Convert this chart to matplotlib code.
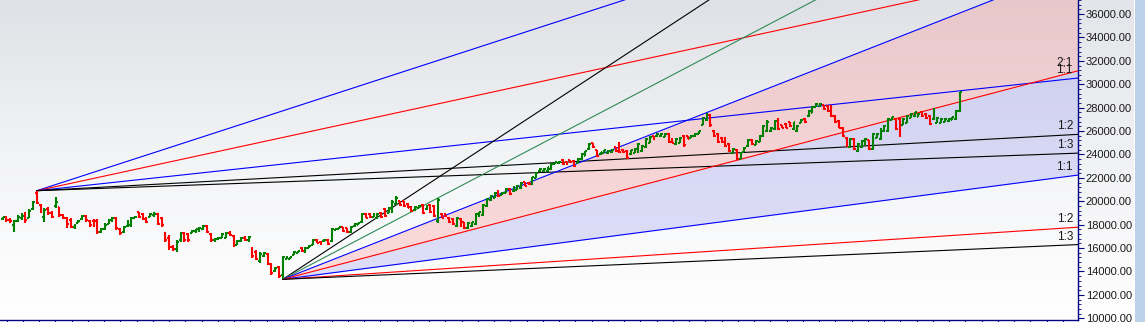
import numpy as np
import matplotlib.pyplot as plt
from matplotlib.collections import LineCollection
from matplotlib.colors import LinearSegmentedColormap
from matplotlib.ticker import MultipleLocator, FixedLocator, FormatStrFormatter

# weekly OHLC bars
highs = [18680, 18740, 18540, 18400, 18830, 18970, 19080, 19320, 20020, 20905,
         19770, 19400, 19540, 19200, 20390, 19540, 18900, 18680, 18550, 18100,
         18400, 18830, 18830, 18400, 18500, 18460, 17700, 18170, 18460, 18680,
         18680, 17690, 17890, 18400, 18680, 18740, 19110, 18970, 18680, 18970,
         19050, 18970, 18680, 17400, 17090, 16300, 16690, 17400, 17400, 17260,
         17550, 17650, 17830, 17980, 17980, 17260, 16900, 16980, 17260, 17400,
         17450, 17120, 16690, 16980, 17000, 17030, 16120, 15840, 15700, 15700,
         15560, 14700, 14410, 14470, 15320,
         15320, 15260, 15780, 15780,
         16120, 16120, 16270, 16750, 16750, 16640, 16750, 16750, 17690, 17690,
         17830, 17830, 17750, 17890, 18170, 18170, 19030, 19030, 18970, 18970,
         18970, 19110, 19400, 19540, 20110, 20450, 20060, 20060, 19830, 19600,
         19600, 19680, 19770, 19680, 19770, 19680, 20250, 18970, 19030, 18630,
         18550, 18630, 18550, 18250, 18250, 18250, 18970, 19110, 19770, 20250,
         20540, 20820, 20970, 20820, 21110, 21110, 21300, 21390, 21680, 21680,
         21680, 22100, 22530, 22820, 22820, 22960, 23250, 23390, 23450, 23590,
         23390, 23530, 23530, 23670, 24100, 24330, 25010, 25010, 24390, 24240,
         24390, 24390, 24440, 24670, 25090, 24440, 24390, 24390, 24530, 24960,
         24810, 25390, 25580, 25580, 25810, 25810, 25810, 25810, 25390, 25390,
         25520, 25670, 25580, 25670, 25810, 26030, 27180, 27520, 27460, 26090,
         25810, 25520, 25470, 24960, 24530, 24440, 24240, 24620, 25300, 25300,
         25240, 25670, 26520, 26950, 26380, 26950, 27090, 26520, 26670, 26810,
         26810, 26520, 27010, 27090, 27800, 28140, 28380, 28380, 28230, 28230,
         28230, 27380, 26950, 26380, 25520, 25390, 25390, 24960, 25240, 25390,
         25240, 25810, 25810, 26240, 26520, 27090, 27230, 27090, 27090, 27090,
         27380, 27520, 27660, 27520, 27660, 27520, 27380, 27950, 27230, 27090,
         27090, 27090, 27230, 27800, 29370]
lows = [18400, 18250, 18170, 17400, 18250, 18400, 18120, 18550, 19260, 19770,
        18970, 18250, 18830, 18550, 19400, 18680, 18450, 17690, 17690, 17650,
        18120, 18400, 18250, 17830, 17830, 17205, 17250, 17550, 18060, 18250,
        17550, 17120, 17320, 17830, 17780, 18550, 18550, 18400, 18120, 18680,
        18700, 17980, 17830, 16550, 15840, 15750, 15700, 16550, 16550, 16550,
        17260, 17300, 17400, 17550, 17260, 16550, 16500, 16690, 16830, 16830,
        17050, 16120, 16270, 16550, 16600, 16550, 15130, 14980, 14700, 15270,
        14560, 13700, 13980, 13420, 13330,
        15040, 15040, 15410, 15560,
        15700, 15560, 15980, 16270, 16410, 16270, 16550, 16270, 16500, 17550,
        17610, 17400, 17320, 17260, 17830, 17980, 18170, 18550, 18550, 18630,
        18460, 18550, 18680, 18970, 18970, 19680, 19600, 19540, 19400, 19110,
        19200, 19400, 18920, 19260, 18970, 18680, 18120, 18550, 18680, 18120,
        17980, 17830, 17830, 17600, 17600, 17830, 17980, 18680, 18740, 19540,
        20060, 20250, 20390, 20540, 20680, 20540, 20820, 20970, 21010, 21310,
        21400, 21390, 21960, 22530, 22530, 22530, 22680, 23190, 23190, 23100,
        23100, 23300, 22960, 23250, 23530, 23870, 24390, 24530, 23760, 23960,
        24100, 24040, 24150, 24240, 24100, 24150, 23590, 23960, 24100, 24100,
        24240, 24530, 24960, 25240, 25520, 25520, 25470, 24960, 24960, 24810,
        24960, 24670, 25300, 25390, 25520, 25750, 26520, 26890, 26380, 25520,
        24960, 25010, 24670, 24240, 24100, 23530, 23590, 24240, 24670, 24810,
        24810, 25090, 25520, 25950, 25950, 26090, 26090, 26240, 26240, 26380,
        26090, 25950, 26670, 26670, 27230, 27520, 28090, 28090, 27800, 27660,
        27230, 26670, 26240, 25520, 24670, 24530, 24390, 24240, 24530, 24810,
        24390, 24390, 25390, 25240, 25950, 25950, 26950, 26090, 25520, 26520,
        26670, 27090, 27230, 27180, 27230, 27010, 26520, 26950, 26670, 26670,
        26740, 26810, 26950, 26950, 27660]
opens = [18450, 18620, 18400, 18000, 18350, 18600, 18900, 18600, 19300, 20700,
         19700, 18700, 19300, 19000, 19600, 19500, 18800, 18600, 18400, 17800,
         18150, 18450, 18750, 18350, 18300, 18300, 17400, 17600, 18100, 18300,
         18600, 17600, 17350, 17900, 18000, 18600, 19050, 18900, 18600, 18700,
         18850, 18900, 18600, 17300, 16900, 16100, 15900, 16700, 17300, 17200,
         17300, 17450, 17450, 17600, 17900, 17200, 16700, 16750, 16900, 16900,
         17300, 17000, 16300, 16600, 16900, 16650, 16000, 15700, 14900, 15350,
         15500, 14650, 14050, 14400, 13700,
         15100, 15080, 15450, 15600,
         16050, 15650, 16000, 16300, 16700, 16550, 16580, 16700, 16600, 17580,
         17650, 17800, 17700, 17350, 17850, 18000, 18200, 18950, 18900, 18650,
         18550, 19000, 19300, 19000, 19100, 19750, 20000, 20000, 19750, 19550,
         19250, 19450, 19700, 19300, 19700, 19600, 18300, 18900, 18950, 18550,
         18500, 17900, 18500, 18200, 17700, 17900, 18050, 18750, 18800, 19600,
         20100, 20300, 20900, 20560, 20700, 21050, 20850, 21000, 21100, 21650,
         21600, 21450, 22000, 22550, 22580, 22600, 22750, 23200, 23250, 23550,
         23350, 23500, 23450, 23300, 23600, 23900, 24450, 24950, 24350, 24000,
         24150, 24100, 24200, 24600, 24900, 24400, 24300, 24000, 24150, 24200,
         24300, 24600, 25000, 25550, 25550, 25550, 25500, 25750, 25350, 24900,
         25000, 25600, 25550, 25400, 25550, 25780, 26550, 26950, 27400, 26050,
         25750, 25450, 25400, 24900, 24150, 24400, 23650, 24250, 24700, 25250,
         24850, 25100, 25600, 26000, 26000, 26150, 27000, 26500, 26600, 26750,
         26150, 26000, 26700, 27050, 27250, 27550, 28100, 28120, 28200, 28150,
         28150, 27300, 26900, 26300, 25450, 24600, 25300, 24300, 24600, 24850,
         25200, 24450, 25400, 25300, 26000, 26000, 26980, 27050, 27000, 26550,
         26700, 27100, 27250, 27200, 27600, 27450, 27300, 27000, 26700, 26700,
         26750, 26850, 26980, 27000, 27700]
closes = [18620, 18400, 18280, 18350, 18700, 18750, 18400, 19200, 19900, 19850,
          19100, 19250, 19000, 18700, 19900, 18800, 18550, 18050, 17800, 18000,
          18350, 18750, 18400, 17950, 17900, 17400, 17600, 18000, 18400, 18600,
          17700, 17250, 17800, 18300, 18600, 18700, 18650, 18500, 18200, 18900,
          18950, 18100, 17950, 16700, 16100, 15900, 16500, 17200, 16700, 16700,
          17500, 17600, 17750, 17900, 17350, 16700, 16800, 16900, 17200, 17300,
          17150, 16300, 16600, 16900, 16700, 16950, 15300, 15100, 15500, 15600,
          14700, 13850, 14300, 13600, 15200,
          15250, 15200, 15700, 15720,
          15750, 16050, 16200, 16650, 16450, 16350, 16700, 16350, 17600, 17650,
          17780, 17450, 17400, 17800, 18100, 18120, 18950, 18600, 18650, 18900,
          18900, 18650, 18750, 19450, 19950, 20300, 19700, 19600, 19450, 19200,
          19500, 19600, 19000, 19600, 19050, 18750, 20100, 18600, 18750, 18200,
          18050, 18550, 17900, 17700, 18150, 18200, 18900, 19050, 19700, 20200,
          20450, 20750, 20450, 20750, 21050, 20600, 21250, 21350, 21600, 21350,
          21450, 22050, 22450, 22750, 22780, 22900, 23200, 23350, 23400, 23150,
          23150, 23320, 23050, 23600, 24000, 24280, 24900, 24600, 23850, 24200,
          24350, 24300, 24400, 24300, 24200, 24200, 23700, 24350, 24450, 24900,
          24750, 25300, 25500, 25300, 25750, 25780, 25750, 25050, 25000, 25300,
          25450, 24800, 25350, 25600, 25750, 26000, 27100, 27450, 26500, 25600,
          25050, 25100, 24750, 24300, 24450, 23650, 24150, 24550, 25200, 24900,
          25150, 25600, 26400, 26800, 26300, 26850, 26200, 26300, 26300, 26450,
          26750, 26450, 26950, 26750, 27750, 28100, 28300, 28330, 27850, 27750,
          27300, 26750, 26300, 25600, 24750, 25300, 24500, 24900, 25150, 25300,
          24450, 25750, 25750, 26150, 26450, 27000, 27200, 26200, 25700, 27000,
          27300, 27450, 27600, 27450, 27300, 27100, 26600, 27850, 27150, 27050,
          27000, 27050, 27200, 27750, 29300]

# gann fans: (ratio, colour, label); unit = points per bar of the 1:1 line
top_unit = 35.0
top_fan = [(3, '#0000ff', ''), (2, '#ff0000', ''), (1, '#0000ff', '1:1'),
           (1 / 2, '#000000', '1:2'), (1 / 3, '#000000', '1:3')]
bot_unit = 42.4
bot_fan = [(5, '#000000', ''), (4, '#2e8b57', ''), (3, '#0000ff', ''),
           (2, '#ff0000', '2:1'), (1, '#0000ff', '1:1'),
           (1 / 2, '#ff0000', '1:2'), (1 / 3, '#000000', '1:3')]

W, H = 1145, 322
PX_PER_BAR = 3.784
n = len(closes)
x_left = -2.7 / PX_PER_BAR
x_right = x_left + 1078 / PX_PER_BAR
y_lo, y_hi = 9897, 37205

plt.rcParams['font.family'] = ['Liberation Sans', 'DejaVu Sans']

fig = plt.figure(figsize=(W / 100, H / 100), dpi=100)
fig.patch.set_facecolor('white')

grad = np.linspace(0, 1, 256).reshape(-1, 1)

# right hand price panel background + blue strip
pan = fig.add_axes([1078 / W, 0, 56 / W, 1])
pan.imshow(grad, aspect='auto', cmap=LinearSegmentedColormap.from_list(
    'g', ['#e3e5ea', '#ffffff']), extent=[0, 1, 0, 1], origin='upper')
pan.axis('off')
strip = fig.add_axes([1135 / W, 0, 10 / W, 1])
strip.set_facecolor('#bcd2ea')
strip.set_xticks([])
strip.set_yticks([])
for s in strip.spines.values():
    s.set_visible(False)

ax = fig.add_axes([0, 2.5 / H, 1078 / W, 319.5 / H])
ax.set_xlim(x_left, x_right)
ax.set_ylim(y_lo, y_hi)
bg = LinearSegmentedColormap.from_list('bg', ['#dfe1e6', '#f3f4f6', '#ffffff'])
ax.imshow(grad, aspect='auto', cmap=bg, extent=[x_left, x_right, y_lo, y_hi],
          origin='upper', zorder=0)

xs_end = x_right + 5

i_top = int(np.argmax(highs[:40]))
p_top = highs[i_top]
i_bot = int(np.argmin(lows))
p_bot = lows[i_bot]

# shaded zones of the lower fan
xf = np.linspace(i_bot, xs_end, 50)
l3 = p_bot + 3 * bot_unit * (xf - i_bot)
l2 = p_bot + 2 * bot_unit * (xf - i_bot)
l1 = p_bot + 1 * bot_unit * (xf - i_bot)
ax.fill_between(xf, l2, l3, color='#ff8c8c', alpha=0.3, lw=0, zorder=1)
ax.fill_between(xf, l1, l2, color='#9a9af0', alpha=0.3, lw=0, zorder=1)

for i0, p0, unit, spec in [(i_top, p_top, top_unit, top_fan),
                           (i_bot, p_bot, bot_unit, bot_fan)]:
    xx = np.array([i0, xs_end])
    for ratio, col, lab in spec:
        ax.plot(xx, p0 + ratio * unit * (xx - i0), color=col, lw=0.8, zorder=3)
        if lab:
            yv = p0 + ratio * unit * (x_right - i0)
            ax.annotate(lab, (x_right, yv), xytext=(-5, 2), textcoords='offset pixels',
                        ha='right', va='bottom', fontsize=8.5, color='#1a1a1a', zorder=6)

# OHLC bars
up = np.array(closes) >= np.array(opens)
segs, cols = [], []
tk = 0.5
for i in range(n):
    c = '#008000' if up[i] else '#ff0000'
    segs.append([(i, lows[i]), (i, highs[i])])
    segs.append([(i - tk, opens[i]), (i, opens[i])])
    segs.append([(i, closes[i]), (i + tk, closes[i])])
    cols += [c, c, c]
ax.add_collection(LineCollection(segs, colors=cols, linewidths=1.5, zorder=4,
                                 capstyle='butt'))

# axes cosmetics
navy = '#000080'
for side in ['left', 'top']:
    ax.spines[side].set_visible(False)
for side in ['right', 'bottom']:
    ax.spines[side].set_color(navy)
    ax.spines[side].set_linewidth(1.0)
ax.yaxis.tick_right()
ax.yaxis.set_major_locator(MultipleLocator(2000))
ax.yaxis.set_minor_locator(MultipleLocator(400))
ax.yaxis.set_major_formatter(FormatStrFormatter('%.2f'))
ax.tick_params(axis='y', which='major', length=4, color=navy, labelsize=8,
               pad=1.5, labelcolor='#1a1a1a')
ax.tick_params(axis='y', which='minor', length=2, color=navy)
first_tick = x_left + 6.7 / PX_PER_BAR
step = 16.25 / PX_PER_BAR
ax.xaxis.set_major_locator(FixedLocator(np.arange(first_tick, x_right, step)))
ax.tick_params(axis='x', which='major', length=3, color=navy, labelbottom=False)

fig.savefig('out.png', dpi=100)
